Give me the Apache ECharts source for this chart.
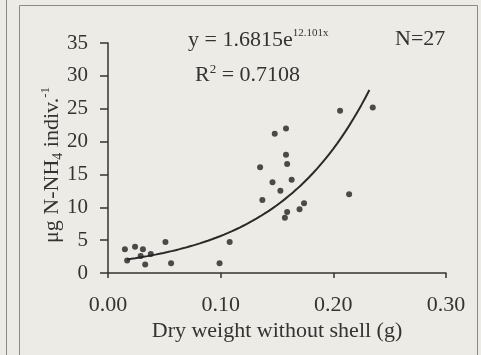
<!DOCTYPE html>
<html>
<head>
<meta charset="utf-8">
<script src="https://cdn.jsdelivr.net/npm/echarts@6/dist/echarts.min.js"></script>
<style>
html,body{margin:0;padding:0;background:#ecebe6;}
#chart{width:481px;height:355px;}
</style>
</head>
<body>
<div id="chart"></div>
<script>
// Observed data: dry weight without shell (g) vs µg N-NH4 per individual
var dryWeight = [0.015, 0.017, 0.024, 0.031, 0.029, 0.033, 0.038, 0.051, 0.056, 0.099, 0.108,
                 0.135, 0.137, 0.146, 0.148, 0.153, 0.157, 0.158, 0.158, 0.159, 0.159, 0.163, 0.170, 0.174,
                 0.206, 0.214, 0.235];
var nh4 = [3.6, 1.9, 4.0, 3.6, 2.6, 1.3, 2.9, 4.7, 1.5, 1.5, 4.7,
           16.1, 11.1, 13.8, 21.2, 12.5, 8.4, 22.0, 18.0, 16.6, 9.3, 14.2, 9.7, 10.6,
           24.7, 12.0, 25.2];
// Fitted curve shown on the chart: y = 1.6815 e^(12.101 x)
var fitA = 1.6815;
var fitB = 12.101;
var fitXStart = 0.017;
var fitXEnd = 0.232;
var xTicks = ['0.00', '0.10', '0.20', '0.30'];
var yTicks = [0, 5, 10, 15, 20, 25, 30, 35];

var points = dryWeight.map(function (x, i) { return [x, nh4[i]]; });
var curve = [];
for (var k = 0; k <= 60; k++) {
  var xv = fitXStart + (fitXEnd - fitXStart) * k / 60;
  curve.push([xv, fitA * Math.exp(fitB * xv)]);
}

var FONT = '"Liberation Serif", "Times New Roman", serif';
var INK = '#333333';
var chart = echarts.init(document.getElementById('chart'));
chart.setOption({
  backgroundColor: '#ecebe6',
  animation: false,
  grid: {left: 108, right: 35, top: 43, bottom: 82, containLabel: false},
  xAxis: {
    type: 'value', min: 0, max: 0.3, interval: 0.1,
    axisLine: {show: true, onZero: false, lineStyle: {color: INK, width: 1.5}},
    axisTick: {show: true, inside: false, length: 5, lineStyle: {color: INK, width: 1.5}},
    splitLine: {show: false},
    axisLabel: {
      margin: 21, fontFamily: FONT, fontSize: 22, color: INK,
      formatter: function (v) { return xTicks[Math.round(v * 10)]; }
    },
    name: 'Dry weight without shell (g)',
    nameLocation: 'middle', nameGap: 47, nameMoveOverlap: false,
    nameTextStyle: {fontFamily: FONT, fontSize: 22, color: INK}
  },
  yAxis: {
    type: 'value', min: yTicks[0], max: yTicks[yTicks.length - 1], interval: 5,
    axisLine: {show: true, onZero: false, lineStyle: {color: INK, width: 1.5}},
    axisTick: {show: true, inside: false, length: 8, lineStyle: {color: INK, width: 1.5}},
    splitLine: {show: false},
    axisLabel: {margin: 20, fontFamily: FONT, fontSize: 21, color: INK},
    name: '{m|μg N-NH}{sub|4}{m| indiv.}{sup|-1}',
    nameLocation: 'middle', nameGap: 43, nameRotate: 90, nameMoveOverlap: false,
    nameTextStyle: {
      fontFamily: FONT, fontSize: 22, color: INK, padding: [0, 14, 0, 0],
      rich: {
        m: {fontFamily: FONT, fontSize: 22, color: INK, lineHeight: 26},
        sub: {fontFamily: FONT, fontSize: 14, color: INK, lineHeight: 14, verticalAlign: 'bottom'},
        sup: {fontFamily: FONT, fontSize: 13, color: INK, lineHeight: 13, verticalAlign: 'top'}
      }
    }
  },
  series: [
    {
      type: 'line', data: curve, showSymbol: false, smooth: false,
      lineStyle: {color: '#2a2a2a', width: 2}, z: 2
    },
    {
      type: 'scatter', data: points, symbol: 'circle', symbolSize: 6,
      itemStyle: {color: '#222222'}, z: 3
    }
  ],
  graphic: [
    {type: 'line', shape: {x1: 6.5, y1: 0, x2: 6.5, y2: 355}, style: {stroke: '#8a8a8a', lineWidth: 1}},
    {type: 'polyline', shape: {points: [[19.5, 355], [19.5, 5.5], [477.5, 5.5], [477.5, 355]]}, style: {stroke: '#8a8a8a', lineWidth: 1, fill: null}},
    {type: 'text', left: 188, top: 28,
      style: {
        text: '{m|y = 1.6815e}{sup|12.101x}',
        rich: {
          m: {fontFamily: FONT, fontSize: 22, fill: INK, lineHeight: 24},
          sup: {fontFamily: FONT, fontSize: 11, fill: INK, lineHeight: 11, verticalAlign: 'top'}
        }
      }},
    {type: 'text', left: 195, top: 63,
      style: {
        text: '{m|R}{sup|2}{m| = 0.7108}',
        rich: {
          m: {fontFamily: FONT, fontSize: 22, fill: INK, lineHeight: 24},
          sup: {fontFamily: FONT, fontSize: 13, fill: INK, lineHeight: 13, verticalAlign: 'top'}
        }
      }},
    {type: 'text', left: 395, top: 28,
      style: {text: 'N=27', fontFamily: FONT, fontSize: 22, fill: INK}}
  ]
});
</script>
</body>
</html>
